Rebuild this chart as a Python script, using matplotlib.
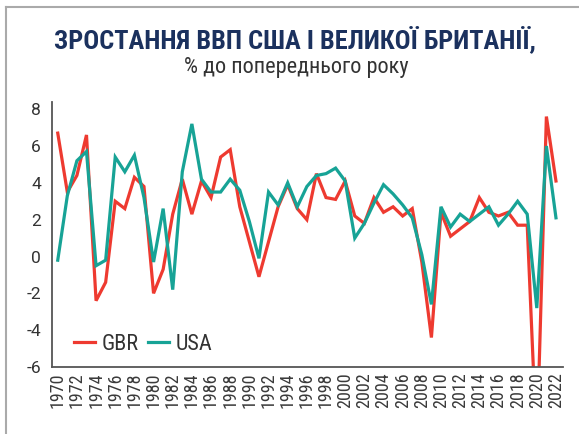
import matplotlib
matplotlib.use("Agg")
import matplotlib.pyplot as plt
from matplotlib.lines import Line2D

# GDP growth, % to previous year
years = list(range(1970, 2023))
gbr = [6.7, 3.5, 4.4, 6.6, -2.4, -1.4, 3.0, 2.6, 4.3, 3.8,
       -2.0, -0.7, 2.3, 4.2, 2.3, 4.1, 3.2, 5.4, 5.8, 2.7,
       0.8, -1.1, 0.8, 2.7, 3.9, 2.6, 2.0, 4.5, 3.2, 3.1,
       4.1, 2.2, 1.8, 3.2, 2.4, 2.7, 2.2, 2.6, -0.3, -4.4,
       2.4, 1.1, 1.5, 1.9, 3.2, 2.4, 2.2, 2.4, 1.7, 1.7,
       -10.4, 7.6, 4.1]
usa = [-0.2, 3.3, 5.2, 5.7, -0.5, -0.2, 5.4, 4.6, 5.5, 3.2,
       -0.3, 2.6, -1.8, 4.6, 7.2, 4.2, 3.5, 3.5, 4.2, 3.6,
       1.9, -0.1, 3.5, 2.8, 4.0, 2.7, 3.8, 4.4, 4.5, 4.8,
       4.1, 1.0, 1.8, 2.9, 3.9, 3.4, 2.8, 2.1, 0.1, -2.6,
       2.7, 1.6, 2.3, 1.9, 2.3, 2.7, 1.7, 2.3, 3.0, 2.3,
       -2.8, 6.0, 2.1]
yticks = [8, 6, 4, 2, 0, -2, -4, -6]
xticks = list(range(1970, 2023, 2))

RED = "#EE3A30"
TEAL = "#17A396"
NAVY = "#1B315E"
COND = ["Roboto Condensed", "Open Sans Condensed", "Barlow Condensed",
        "Asap Condensed", "DejaVu Sans"]
PLAIN = ["Roboto", "Open Sans", "DejaVu Sans"]

fig = plt.figure(figsize=(5.79, 4.34), dpi=100)
ax = fig.add_axes([0.0898, 0.1544, 0.882, 0.611])

ax.plot(years, gbr, color=RED, lw=2.3, label="GBR", solid_joinstyle="miter")
ax.plot(years, usa, color=TEAL, lw=2.3, label="USA", solid_joinstyle="miter")

ax.set_xlim(1969.4, 2022.7)
ax.set_ylim(-6, 8.4)
ax.set_yticks(yticks)
ax.set_yticklabels([str(v) for v in yticks], family=PLAIN, fontsize=12.5, color="#333333")
ax.set_xticks(xticks)
ax.set_xticklabels([str(y) for y in xticks], rotation=90, family=COND,
                   fontsize=13, color="#3a3a3a")
ax.tick_params(length=0, pad=4)
ax.tick_params(axis="y", pad=8)

for side in ("top", "right"):
    ax.spines[side].set_visible(False)
for side in ("left", "bottom"):
    ax.spines[side].set_color("#555555")
    ax.spines[side].set_linewidth(1.3)

leg = ax.legend(loc="lower left", bbox_to_anchor=(0.004, -0.03), ncol=2, frameon=False,
                handlelength=0.95, handletextpad=0.3, columnspacing=0.4,
                prop={"family": COND, "size": 16})
for t in leg.get_texts():
    t.set_color("#333333")

fig.text(0.51, 1 - 49.5 / 434, "ЗРОСТАННЯ ВВП США І ВЕЛИКОЇ БРИТАНІЇ,",
         ha="center", va="baseline", fontsize=19, fontweight="bold", color=NAVY,
         family=COND)
fig.text(0.511, 1 - 73 / 434, "% до попереднього року",
         ha="center", va="baseline", fontsize=16, color="#333333", family=COND)

# frame lines on top and left
fig.add_artist(Line2D([6 / 579, 6 / 579], [0, 1 - 7 / 434], transform=fig.transFigure,
                      color="#aaaaaa", lw=1.5))
fig.add_artist(Line2D([6 / 579, 1], [1 - 7 / 434, 1 - 7 / 434], transform=fig.transFigure,
                      color="#aaaaaa", lw=1.5))

fig.savefig("out.png", dpi=100)
